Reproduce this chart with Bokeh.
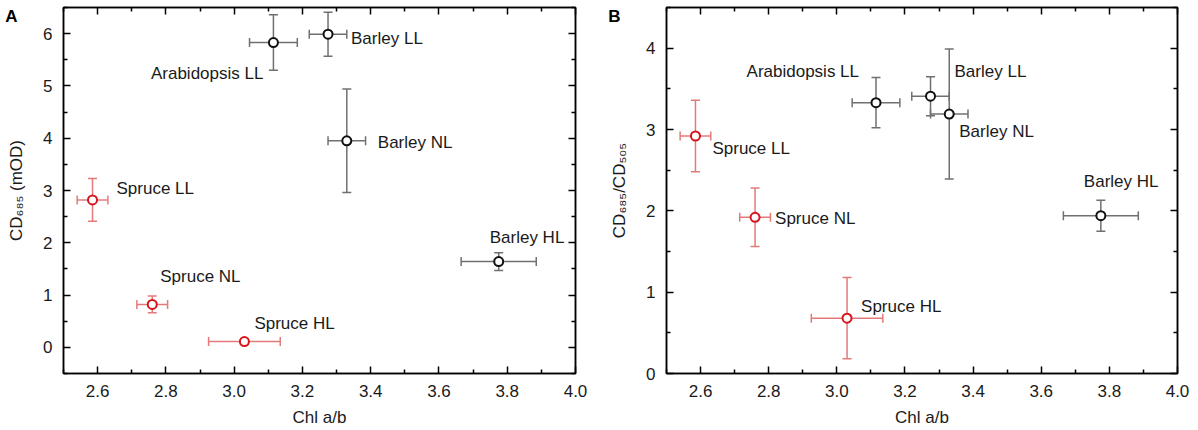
from bokeh.plotting import figure
from bokeh.layouts import row
from bokeh.models import (ColumnDataSource, Whisker, TeeHead, LinearAxis, FixedTicker,
                          Range1d, CustomJSTickFormatter, PrintfTickFormatter)
from bokeh.embed import file_html
from bokeh.resources import INLINE
from bokeh.core.properties import value

# ---------------- data ----------------
names = ["Arabidopsis LL", "Barley LL", "Barley NL", "Barley HL",
         "Spruce LL", "Spruce NL", "Spruce HL"]
group = ["angio", "angio", "angio", "angio", "spruce", "spruce", "spruce"]
chl_ab = [3.115, 3.275, 3.33, 3.775, 2.585, 2.76, 3.03]
chl_ab_err = [0.07, 0.055, 0.055, 0.11, 0.045, 0.045, 0.105]
cd685 = [5.83, 5.99, 3.95, 1.64, 2.82, 0.82, 0.11]
cd685_err = [0.53, 0.42, 0.99, 0.17, 0.41, 0.16, 0.05]
ratio = [3.33, 3.41, 3.19, 1.94, 2.92, 1.92, 0.68]
ratio_err = [0.31, 0.24, 0.80, 0.19, 0.44, 0.36, 0.50]

x_ticks = [2.6, 2.8, 3.0, 3.2, 3.4, 3.6, 3.8, 4.0]
x_minor = [2.5, 2.7, 2.9, 3.1, 3.3, 3.5, 3.7, 3.9]
ya_ticks = [0, 1, 2, 3, 4, 5, 6]
ya_minor = [-0.5, 0.5, 1.5, 2.5, 3.5, 4.5, 5.5, 6.5]
yb_ticks = [0, 1, 2, 3, 4]
yb_minor = [0.5, 1.5, 2.5, 3.5, 4.5]

# label placement (pixel offsets from the point, align)
offs_a = [(-10, 31, "right"), (23, 4, "left"), (31, 2, "left"), (-9, -24, "left"),
          (24, -11, "left"), (8, -28, "left"), (10, -18, "left")]
offs_b = [(-17, -31, "right"), (24, -25, "left"), (10, 17, "left"), (-17, -34, "left"),
          (17, 12, "left"), (20, 1, "left"), (14, -12, "left")]

FONT = "Liberation Sans"
COLORS = {"angio": ("#111111", "#707070"), "spruce": ("#d8141c", "#e37a7a")}


def style_axis(ax):
    ax.axis_line_color = "black"
    ax.axis_line_width = 1.5
    ax.major_tick_in = 7
    ax.major_tick_out = 0
    ax.minor_tick_in = 4
    ax.minor_tick_out = 0
    ax.major_tick_line_width = 1.5
    ax.minor_tick_line_width = 1.5
    ax.major_tick_line_color = "black"
    ax.minor_tick_line_color = "black"
    ax.major_label_text_font = FONT
    ax.major_label_text_font_size = "17px"
    ax.major_label_text_color = "#1a1a1a"
    ax.axis_label_text_font = FONT
    ax.axis_label_text_font_size = "17px"
    ax.axis_label_text_font_style = "normal"
    ax.axis_label_text_color = "#1a1a1a"


def panel(yv, ye, ylabel, yrange, yt, ym, offs, letter, letter_y, w, bl, br, bb):
    p = figure(width=w, height=430, output_backend="svg", toolbar_location=None,
               x_range=Range1d(2.5, 4.0), y_range=Range1d(*yrange),
               min_border_left=bl, min_border_right=br, min_border_top=7,
               min_border_bottom=bb)
    p.xgrid.visible = False
    p.ygrid.visible = False
    p.outline_line_color = "black"
    p.outline_line_width = 1.5
    p.background_fill_color = "white"
    p.border_fill_color = "white"

    xt = FixedTicker(ticks=x_ticks, minor_ticks=x_minor)
    ytk = FixedTicker(ticks=yt, minor_ticks=ym)
    bottom = p.below[0]
    left = p.left[0]
    bottom.ticker = xt
    bottom.formatter = PrintfTickFormatter(format="%.1f")
    left.ticker = ytk
    top = LinearAxis(ticker=xt, formatter=CustomJSTickFormatter(code="return ''"))
    right = LinearAxis(ticker=ytk, formatter=CustomJSTickFormatter(code="return ''"))
    p.add_layout(top, "above")
    p.add_layout(right, "right")
    for ax in (bottom, left, top, right):
        style_axis(ax)
    bottom.axis_label = "Chl a/b"
    bottom.major_label_standoff = 11
    bottom.axis_label_standoff = 8
    left.axis_label = ylabel
    left.major_label_standoff = 11
    left.axis_label_standoff = 14
    left.major_label_orientation = "horizontal"
    top.major_label_standoff = 0
    right.major_label_standoff = 0

    # panel letter, drawn as the single label of an outer, line-less left axis
    lax = LinearAxis(ticker=FixedTicker(ticks=[letter_y], minor_ticks=[]),
                     formatter=CustomJSTickFormatter(code="return '%s'" % letter))
    lax.axis_line_color = None
    lax.major_tick_line_color = None
    lax.minor_tick_line_color = None
    lax.major_tick_in = 0
    lax.major_tick_out = 0
    lax.minor_tick_in = 0
    lax.minor_tick_out = 0
    lax.major_label_standoff = -13
    lax.major_label_text_font = FONT
    lax.major_label_text_font_size = "17px"
    lax.major_label_text_font_style = "bold"
    lax.major_label_text_color = "black"
    p.add_layout(lax, "left")

    for g in ["angio", "spruce"]:
        idx = [i for i in range(len(names)) if group[i] == g]
        pc, ec = COLORS[g]
        src = ColumnDataSource(dict(
            x=[chl_ab[i] for i in idx], y=[yv[i] for i in idx],
            xl=[chl_ab[i] - chl_ab_err[i] for i in idx],
            xu=[chl_ab[i] + chl_ab_err[i] for i in idx],
            yl=[yv[i] - ye[i] for i in idx],
            yu=[yv[i] + ye[i] for i in idx]))
        for dim, base, lo, up in [("height", "x", "yl", "yu"), ("width", "y", "xl", "xu")]:
            wk = Whisker(source=src, base=base, lower=lo, upper=up, dimension=dim,
                         line_color=ec, line_width=1.5,
                         upper_head=TeeHead(size=9, line_color=ec, line_width=1.5),
                         lower_head=TeeHead(size=9, line_color=ec, line_width=1.5))
            p.add_layout(wk)
        p.scatter("x", "y", source=src, marker="circle", size=9, fill_color="white",
                  line_color=pc, line_width=2)

    lsrc = ColumnDataSource(dict(
        x=chl_ab, y=yv, t=names,
        dx=[o[0] for o in offs], dy=[o[1] for o in offs], al=[o[2] for o in offs]))
    p.text("x", "y", text="t", source=lsrc, x_offset="dx", y_offset="dy",
           text_align="al", text_baseline="middle", text_font=value(FONT),
           text_font_size="17px", text_color="#1a1a1a")
    return p


pa = panel(cd685, cd685_err, "CD\u2086\u2088\u2085 (mOD)", (-0.5, 6.5), ya_ticks, ya_minor,
           offs_a, "A", 6.33, 600, 63, 25, 57)
pb = panel(ratio, ratio_err, "CD\u2086\u2088\u2085/CD\u2085\u2080\u2085", (0, 4.5), yb_ticks,
           yb_minor, offs_b, "B", 4.39, 598, 66, 21, 57)

layout = row(pa, pb)
open("out.html", "w").write(file_html(layout, INLINE))
